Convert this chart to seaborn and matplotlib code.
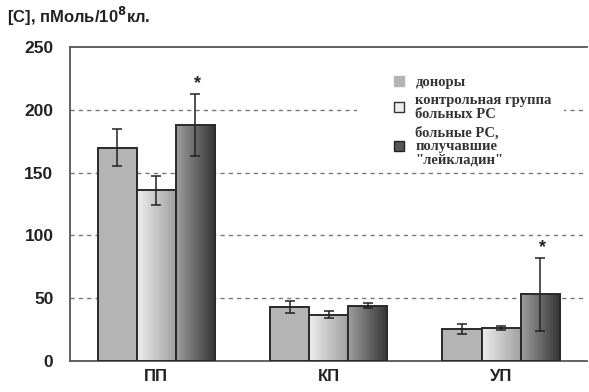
import numpy as np
import pandas as pd
import matplotlib
matplotlib.use("Agg")
import matplotlib.pyplot as plt
import seaborn as sns
from matplotlib.lines import Line2D
from matplotlib.patches import Rectangle

# Data
regions = ["ПП", "КП", "УП"]
groups = ["доноры", "контрольная группа\nбольных РС", "больные РС,\nполучавшие\n\"лейкладин\""]
donors = [170, 43, 25.5]
control = [136, 37, 26]
treated = [188, 44, 53]
donors_err = [15, 4.5, 4]
control_err = [11.5, 3, 1.5]
treated_err = [25, 2, 29]
significant = [True, False, True]

df = pd.DataFrame({
    "region": regions * 3,
    "group": [groups[0]] * 3 + [groups[1]] * 3 + [groups[2]] * 3,
    "value": donors + control + treated,
    "err": donors_err + control_err + treated_err,
})

sns.set_style("white")
plt.rcParams["font.family"] = ["Liberation Sans", "DejaVu Sans"]

fig = plt.figure(figsize=(5.89, 3.92), dpi=100)
ax = fig.add_axes([0.119, 0.079, 0.878, 0.801])

palette = {groups[0]: "#b4b4b4", groups[1]: "#dcdcdc", groups[2]: "#555555"}
sns.barplot(data=df, x="region", y="value", hue="group", hue_order=groups,
            order=regions, palette=palette, errorbar=None, width=0.68,
            edgecolor="#2a2a2a", linewidth=1.4, ax=ax, legend=False, zorder=3)

ax.set_xlim(-0.5, 2.5)
ax.set_ylim(0, 250)
ax.set_yticks([0, 50, 100, 150, 200, 250])

# Gradient fills for the two patient groups
n = len(regions)
patches = ax.patches[:3 * n]
grad_light = np.linspace(0.93, 0.62, 256)[None, :]
grad_dark = np.linspace(0.62, 0.2, 256)[None, :]
for gi, g in enumerate(groups):
    vals = df[df.group == g].set_index("region").loc[regions]
    for ri in range(n):
        p = patches[gi * n + ri]
        x0 = p.get_x()
        w = p.get_width()
        h = p.get_height()
        if gi > 0:
            grad = grad_light if gi == 1 else grad_dark
            im = ax.imshow(grad, cmap="gray", vmin=0, vmax=1, aspect="auto",
                           extent=[x0, x0 + w, 0, h], zorder=3.5,
                           interpolation="bilinear")
            im.set_clip_path(p)
            p.set_facecolor("none")
            p.set_zorder(4)
        xc = x0 + w / 2
        ax.errorbar(xc, vals["value"].iloc[ri], yerr=vals["err"].iloc[ri],
                    fmt="none", ecolor="#222222", elinewidth=1.1,
                    capsize=3.5, capthick=1.1, zorder=5)
        if gi == 2 and significant[ri]:
            ax.text(xc + 0.015, vals["value"].iloc[ri] + vals["err"].iloc[ri] + 1.5, "*",
                    ha="center", va="bottom", fontsize=13, fontweight="bold",
                    color="#222222", zorder=6)

ax.set_xlim(-0.5, 2.5)
ax.set_ylim(0, 250)

# Grid lines
for yv in [50, 100, 150, 200]:
    ax.axhline(yv, color="#777777", lw=1.0, ls=(0, (3, 3)), zorder=1)

for side in ["left", "top", "bottom"]:
    ax.spines[side].set_color("#555555")
    ax.spines[side].set_linewidth(1.3)
ax.spines["right"].set_visible(False)

ax.set_xlabel("")
ax.set_ylabel("")
ax.tick_params(axis="y", length=0, labelsize=12.5, colors="#222222", pad=12)
ax.tick_params(axis="x", length=0, labelsize=12, colors="#222222", pad=6)
for lbl in ax.get_xticklabels() + ax.get_yticklabels():
    lbl.set_fontweight("bold")

fig.text(0.012, 0.958, "[C], пМоль/10$^{\\mathbf{8}}$кл.", fontsize=12, color="#222222",
         ha="left", va="center", fontweight="bold")

# White panel behind the legend
ax.add_patch(Rectangle((0.555, 0.62), 0.40, 0.33, transform=ax.transAxes,
                       facecolor="white", edgecolor="none", zorder=2))

# Legend
handles = [
    Line2D([], [], marker="s", ls="none", markersize=7, markerfacecolor="#b4b4b4",
           markeredgecolor="#b4b4b4"),
    Line2D([], [], marker="s", ls="none", markersize=7, markerfacecolor="#eeeeee",
           markeredgecolor="#333333"),
    Line2D([], [], marker="s", ls="none", markersize=7, markerfacecolor="#555555",
           markeredgecolor="#222222"),
]
leg = ax.legend(handles, groups, loc="upper left", bbox_to_anchor=(0.6, 0.945),
                frameon=False,
                prop={"family": "Liberation Serif", "weight": "bold", "size": 10.5},
                handletextpad=0.6, labelspacing=0.35, borderpad=0.3,
                handlelength=1.0)
leg.set_zorder(7)
for t in leg.get_texts():
    t.set_color("#333333")
    t.set_linespacing(1.05)

fig.savefig("out.png", dpi=100)
